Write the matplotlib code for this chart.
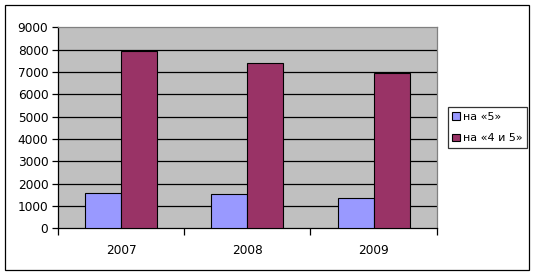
import matplotlib.pyplot as plt
import numpy as np
from matplotlib.patches import Rectangle

years = ["2007", "2008", "2009"]
on_5 = [1570, 1520, 1340]
on_4_5 = [7920, 7390, 6970]
series_labels = ["на «5»", "на «4 и 5»"]
colors = ["#9999FF", "#993366"]

W, H = 538, 275
fig = plt.figure(figsize=(W / 100, H / 100), dpi=100)
plt.rcParams["font.family"] = ["DejaVu Sans"]
fs = 8.7

ax = fig.add_axes([58 / W, 1 - 228.3 / H, (436.7 - 58) / W, (228.3 - 27.3) / H])
ax.set_facecolor("#C0C0C0")

x = np.arange(len(years))
width = 1 / 3.5
ax.bar(x - width / 2, on_5, width, color=colors[0], edgecolor="black",
       linewidth=0.8, label=series_labels[0], zorder=3)
ax.bar(x + width / 2, on_4_5, width, color=colors[1], edgecolor="black",
       linewidth=0.8, label=series_labels[1], zorder=3)

ax.set_xlim(-0.5, len(years) - 0.5)
ax.set_ylim(0, 9000)
ax.set_yticks(range(0, 9001, 1000))
for v in range(1000, 9000, 1000):
    ax.axhline(v, color="black", linewidth=0.9, zorder=1)

ax.set_xticks(x)
ax.set_xticklabels(years)
ax.set_xticks(np.arange(-0.5, len(years)), minor=True)
ax.tick_params(axis="x", which="major", length=0, pad=11, labelsize=fs)
ax.tick_params(axis="x", which="minor", length=5, width=0.9, direction="out")
ax.tick_params(axis="y", length=4, width=0.9, direction="out", pad=3, labelsize=fs)

for side in ["left", "bottom"]:
    ax.spines[side].set_color("black")
    ax.spines[side].set_linewidth(0.9)
for side in ["top", "right"]:
    ax.spines[side].set_color("#808080")
    ax.spines[side].set_linewidth(0.9)

leg = ax.legend(loc="center left", bbox_to_anchor=(448 / W, 1 - 127.5 / H),
                bbox_transform=fig.transFigure, fontsize=8, frameon=True,
                fancybox=False, handlelength=0.7, handleheight=0.7,
                handletextpad=0.25, borderpad=0.4, labelspacing=1.05,
                borderaxespad=0)
leg.get_frame().set_edgecolor("black")
leg.get_frame().set_linewidth(0.9)

fig.patches.append(Rectangle((5 / W, 5 / H), 524 / W, 265 / H, fill=False,
                             edgecolor="black", linewidth=0.9,
                             transform=fig.transFigure))

fig.savefig("out.png", dpi=100)
plt.close(fig)
